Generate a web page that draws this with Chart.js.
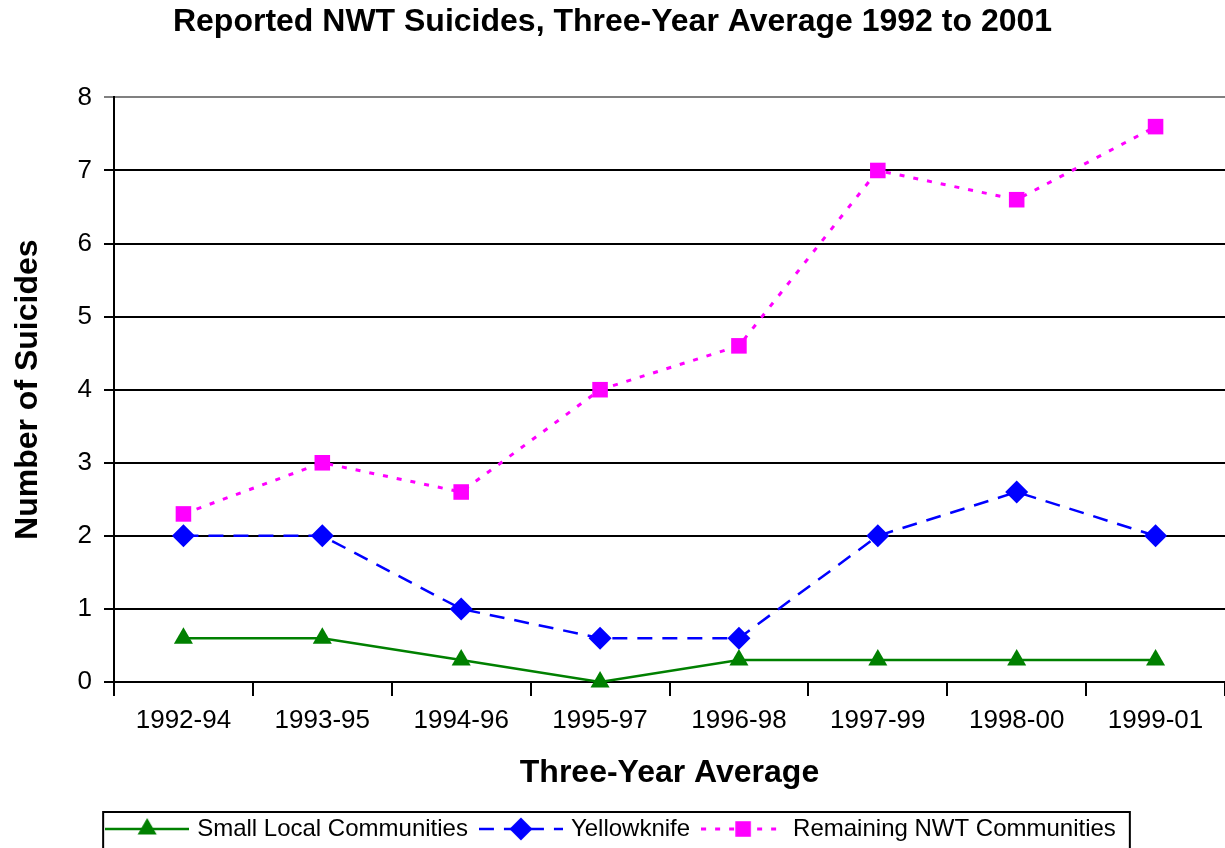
<!DOCTYPE html>
<html>
<head>
<meta charset="utf-8">
<script src="https://cdn.jsdelivr.net/npm/chart.js@4.4.1/dist/chart.umd.min.js"></script>
<style>
html, body { margin: 0; padding: 0; background: #fff; }
#wrap { width: 1225px; height: 848px; }
</style>
</head>
<body>
<div id="wrap"><canvas id="nwtChart"></canvas></div>
<script>
const periods = ['1992-94', '1993-95', '1994-96', '1995-97', '1996-98', '1997-99', '1998-00', '1999-01'];
const smallLocal = [0.6, 0.6, 0.3, 0, 0.3, 0.3, 0.3, 0.3];
const yellowknife = [2, 2, 1, 0.6, 0.6, 2, 2.6, 2];
const remaining = [2.3, 3, 2.6, 4, 4.6, 7, 6.6, 7.6];
const yTicks = [0, 1, 2, 3, 4, 5, 6, 7, 8];

Chart.defaults.font.family = '"Liberation Sans", Arial, sans-serif';
Chart.defaults.color = '#000';

const datasets = [
  {
    label: 'Small Local Communities',
    data: smallLocal,
    borderColor: '#008000',
    backgroundColor: '#008000',
    borderWidth: 2.5,
    pointStyle: 'triangle',
    pointRadius: 11
  },
  {
    label: 'Yellowknife',
    data: yellowknife,
    borderColor: '#0000ff',
    backgroundColor: '#0000ff',
    borderWidth: 2.5,
    borderDash: [15, 10],
    pointStyle: 'rectRot',
    pointRadius: 11.5
  },
  {
    label: 'Remaining NWT Communities',
    data: remaining,
    borderColor: '#ff00ff',
    backgroundColor: '#ff00ff',
    borderWidth: 3,
    borderDash: [5, 9],
    pointStyle: 'rect',
    pointRadius: 11
  }
];
datasets.forEach(d => {
  d.pointBorderWidth = 0;
  d.pointHoverRadius = d.pointRadius;
  d.tension = 0;
  d.clip = false;
});

// little line+marker picture for the legend
function legendSample(ds) {
  const c = document.createElement('canvas');
  c.width = 84;
  c.height = 26;
  const g = c.getContext('2d');
  g.strokeStyle = ds.borderColor;
  g.lineWidth = ds.borderWidth;
  g.setLineDash(ds.borderDash || []);
  g.beginPath();
  g.moveTo(0, 13);
  g.lineTo(84, 13);
  g.stroke();
  g.setLineDash([]);
  g.fillStyle = ds.backgroundColor;
  Chart.helpers.drawPoint(g, { pointStyle: ds.pointStyle, radius: ds.pointRadius, rotation: 0, borderWidth: 0 }, 42, 13);
  return c;
}

const legendFrame = {
  id: 'legendFrame',
  afterDraw(chart) {
    const boxes = chart.legend.legendHitBoxes;
    if (!boxes || !boxes.length) return;
    const first = boxes[0];
    const last = boxes[boxes.length - 1];
    const ctx = chart.ctx;
    const midY = first.top + first.height / 2;
    ctx.save();
    ctx.strokeStyle = '#000';
    ctx.lineWidth = 2;
    ctx.strokeRect(first.left - 6, midY - 17, last.left + last.width - first.left + 20, 60);
    ctx.restore();
  }
};

new Chart(document.getElementById('nwtChart'), {
  type: 'line',
  data: { labels: periods, datasets: datasets },
  plugins: [legendFrame],
  options: {
    responsive: true,
    maintainAspectRatio: false,
    animation: false,
    devicePixelRatio: 1,
    layout: { autoPadding: false, padding: { top: 0, left: 0, right: 0, bottom: -3 } },
    plugins: {
      title: {
        display: true,
        text: 'Reported NWT Suicides, Three-Year Average 1992 to 2001',
        font: { size: 32, weight: 'bold' },
        padding: { top: 3, bottom: 56 }
      },
      legend: {
        position: 'bottom',
        labels: {
          font: { size: 24 },
          usePointStyle: true,
          pointStyleWidth: 76,
          padding: 15,
          generateLabels(chart) {
            return chart.data.datasets.map((ds, i) => ({
              text: ds.label,
              pointStyle: legendSample(ds),
              fillStyle: ds.backgroundColor,
              strokeStyle: ds.borderColor,
              lineWidth: 0,
              hidden: false,
              datasetIndex: i
            }));
          }
        }
      },
      tooltip: { enabled: false }
    },
    scales: {
      x: {
        offset: true,
        afterFit(scale) {
          scale.height = 120;
          scale.paddingLeft = 0;
          scale.paddingRight = 0;
        },
        grid: {
          offset: true,
          drawOnChartArea: false,
          color: '#000',
          lineWidth: 2,
          tickLength: 14
        },
        border: { color: '#000', width: 2 },
        ticks: { font: { size: 26 }, padding: 9, maxRotation: 0 },
        title: {
          display: true,
          text: 'Three-Year Average',
          font: { size: 32, weight: 'bold' },
          padding: { top: 0, bottom: 10 }
        }
      },
      y: {
        min: yTicks[0],
        max: yTicks[yTicks.length - 1],
        afterFit(scale) { scale.width = 114; },
        afterBuildTicks(scale) { scale.ticks = yTicks.map(v => ({ value: v })); },
        grid: {
          color: c => (c.tick && c.tick.value === 8 ? '#808080' : '#000'),
          lineWidth: 2,
          tickLength: 10
        },
        border: { color: '#000', width: 2 },
        ticks: { font: { size: 26 }, padding: 12 },
        title: {
          display: true,
          text: 'Number of Suicides',
          font: { size: 32, weight: 'bold' },
          padding: { top: 9, bottom: 0 }
        }
      }
    }
  }
});
</script>
</body>
</html>
